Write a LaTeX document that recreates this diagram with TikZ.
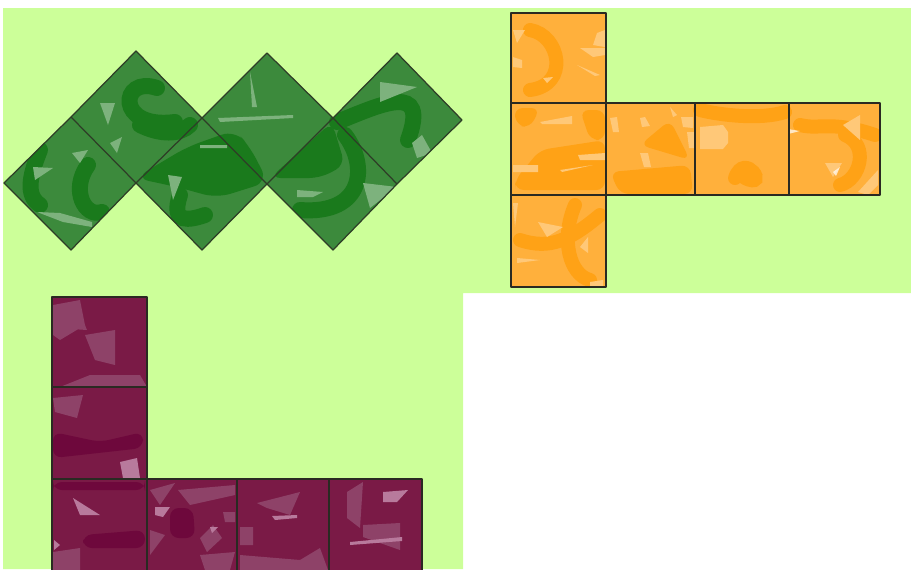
\documentclass[tikz,border=0pt]{standalone}
\usepackage{xcolor}
\definecolor{Lime}{HTML}{CCFF99}
\definecolor{LeafMid}{HTML}{3C8A3C}
\definecolor{LeafDark}{HTML}{1A7A1C}
\definecolor{LeafPale}{HTML}{7DB27D}
\definecolor{AmberMid}{HTML}{FFB03C}
\definecolor{AmberDark}{HTML}{FFA216}
\definecolor{AmberPale}{HTML}{FFC878}
\definecolor{WineMid}{HTML}{7A1A46}
\definecolor{WineDark}{HTML}{6E083C}
\definecolor{WinePale}{HTML}{8E4268}
\definecolor{WineLight}{HTML}{B87A9C}
\definecolor{Edge}{HTML}{2A2A22}

\begin{document}
\begin{tikzpicture}[
  x=0.02cm,y=-0.02cm,
  leafedge/.style={draw=Edge!80!LeafMid,line width=0.7pt,line join=round},
  netedge/.style={draw=Edge,line width=0.8pt,line join=round},
  leafswirl/.style={draw=LeafDark,line width=16*0.02cm,line cap=round},
  amberswirl/.style={draw=AmberDark,line width=14*0.02cm,line cap=round}
]
  \useasboundingbox (0,0) rectangle (911,569);

  % backdrop
  \fill[Lime] (3,8) -- (911,8) -- (911,293) -- (463,293) -- (463,569) -- (3,569) -- cycle;

  % green net
  \begin{scope}
    \clip (4,183) -- (71,117) -- (136,51) -- (202,118) -- (267,53) -- (333,118) -- (397,53) -- (462,120) -- (397,184) -- (333,250) -- (267,184) -- (202,250) -- (136,183) -- (71,250) -- cycle;
    \fill[LeafMid] (0,40) rectangle (470,260);
    \draw[leafswirl] (157,88) .. controls (120,75) and (115,130) .. (175,122);
    \draw[leafswirl] (88,165) .. controls (70,190) and (85,218) .. (102,212);
    \draw[leafswirl] (345,135) .. controls (368,165) and (365,215) .. (300,210);
    \draw[leafswirl] (337,122) .. controls (380,105) and (430,80) .. (408,140);
    \draw[leafswirl] (40,150) .. controls (30,175) and (25,195) .. (40,205);
    \draw[leafswirl] (180,195) .. controls (170,225) and (190,220) .. (205,215);
    \draw[leafswirl] (140,125) .. controls (160,135) and (180,135) .. (190,125);
    \fill[LeafDark,rounded corners=8pt] (135,178) -- (187,147) -- (235,130) -- (250,147) -- (268,182) -- (217,198) -- (177,187) -- cycle;
    \fill[LeafDark,rounded corners=6pt] (270,178) -- (332,122) -- (345,165) -- (320,178) -- cycle;
    \fill[LeafPale] (380,82) -- (417,87) -- (380,102) -- cycle
      (100,103) -- (115,103) -- (108,125) -- cycle
      (412,143) -- (422,135) -- (432,153) -- (417,158) -- cycle
      (363,183) -- (397,187) -- (370,208) -- cycle
      (37,212) -- (60,213) -- (92,222) -- (92,227) -- (63,222) -- cycle
      (168,175) -- (182,177) -- (173,200) -- cycle
      (218,118) -- (293,115) -- (293,118) -- (220,122) -- cycle
      (250,72) -- (257,107) -- (252,107) -- cycle
      (72,153) -- (88,150) -- (80,163) -- cycle
      (33,167) -- (53,168) -- (35,180) -- cycle
      (110,143) -- (122,137) -- (117,153) -- cycle
      (200,145) -- (227,145) -- (227,148) -- (200,148) -- cycle
      (297,190) -- (323,192) -- (313,197) -- (297,197) -- cycle;
  \end{scope}
  \draw[leafedge] (4,183) -- (71,117) -- (136,51) -- (202,118) -- (267,53) -- (333,118) -- (397,53) -- (462,120) -- (397,184) -- (333,250) -- (267,184) -- (202,250) -- (136,183) -- (71,250) -- cycle;
  \draw[leafedge] (71,117) -- (136,183) -- (202,118) -- (267,184) -- (333,118) -- (397,184);

  % orange net
  \begin{scope}
    \clip (511,13) -- (606,13) -- (606,103) -- (880,103) -- (880,195) -- (606,195) -- (606,287) -- (511,287) -- cycle;
    \fill[AmberMid] (511,13) rectangle (880,287);
    \draw[amberswirl] (745,178) .. controls (770,190) and (745,150) .. (735,178);
    \draw[amberswirl] (845,135) .. controls (870,145) and (860,180) .. (840,185);
    \draw[amberswirl] (575,205) .. controls (560,240) and (570,275) .. (590,280);
    \draw[amberswirl] (520,240) .. controls (550,250) and (570,240) .. (600,215);
    \draw[amberswirl] (800,125) .. controls (820,130) and (830,120) .. (875,135);
    \draw[amberswirl] (530,30) .. controls (560,35) and (570,85) .. (530,90);
    \draw[amberswirl] (700,110) .. controls (720,115) and (760,120) .. (785,112);
    \fill[AmberDark,rounded corners=5pt] (514,108) -- (540,108) -- (530,128) -- (516,125) -- cycle
      (610,172) -- (690,165) -- (693,194) -- (620,194) -- cycle
      (640,145) -- (670,120) -- (690,160) -- cycle
      (540,150) -- (605,140) -- (605,190) -- (515,190) -- (515,180) -- cycle
      (580,110) -- (605,110) -- (605,140) -- (590,140) -- cycle;
    \fill[AmberPale] (580,48) -- (605,48) -- (605,55) -- (593,57) -- cycle
      (577,65) -- (600,75) -- (595,76) -- cycle
      (513,30) -- (525,30) -- (517,43) -- cycle
      (513,57) -- (522,60) -- (522,68) -- (513,67) -- cycle
      (543,78) -- (553,77) -- (547,83) -- cycle
      (597,33) -- (605,30) -- (605,47) -- (593,45) -- cycle
      (540,122) -- (572,116) -- (572,124) -- (542,124) -- cycle
      (513,165) -- (538,165) -- (538,172) -- (513,172) -- cycle
      (578,155) -- (605,153) -- (605,160) -- (580,160) -- cycle
      (560,170) -- (593,165) -- (562,172) -- cycle
      (610,118) -- (617,117) -- (619,132) -- (613,132) -- cycle
      (640,118) -- (645,117) -- (650,126) -- (642,127) -- cycle
      (681,117) -- (693,117) -- (693,128) -- (683,127) -- cycle
      (687,132) -- (694,132) -- (694,148) -- (689,148) -- cycle
      (640,153) -- (648,153) -- (651,167) -- (644,167) -- cycle
      (670,107) -- (677,115) -- (673,117) -- cycle
      (700,127) -- (723,125) -- (728,132) -- (728,143) -- (723,149) -- (700,149) -- cycle
      (843,125) -- (860,115) -- (860,140) -- cycle
      (825,163) -- (842,163) -- (833,177) -- cycle
      (858,192) -- (878,170) -- (878,185) -- (868,195) -- cycle
      (538,222) -- (563,227) -- (547,237) -- cycle
      (513,203) -- (518,203) -- (515,227) -- cycle
      (580,247) -- (588,237) -- (588,253) -- cycle
      (517,258) -- (540,260) -- (517,263) -- cycle
      (590,282) -- (603,280) -- (603,287) -- (590,287) -- cycle;
    \fill[white,fill opacity=0.7] (788,129) -- (800,131) -- (788,134) -- cycle
      (833,172) -- (840,167) -- (836,176) -- cycle;
  \end{scope}
  \draw[netedge] (511,13) rectangle (606,103);
  \draw[netedge] (511,103) rectangle (606,195);
  \draw[netedge] (511,195) rectangle (606,287);
  \draw[netedge] (606,103) rectangle (695,195);
  \draw[netedge] (695,103) rectangle (789,195);
  \draw[netedge] (789,103) rectangle (880,195);

  % purple net
  \begin{scope}
    \clip (52,297) -- (147,297) -- (147,479) -- (422,479) -- (422,575) -- (52,575) -- cycle;
    \fill[WineMid] (52,297) rectangle (422,575);
    \fill[WineDark,rounded corners=5pt] (53,432) -- (100,442) -- (143,432) -- (143,448) -- (53,458) -- cycle
      (170,508) -- (193,508) -- (195,538) -- (170,538) -- cycle
      (83,535) -- (145,530) -- (145,548) -- (83,548) -- cycle
      (53,482) -- (145,482) -- (145,490) -- (53,490) -- cycle;
    \fill[WinePale] (53,398) -- (83,395) -- (77,418) -- (55,412) -- cycle
      (53,305) -- (80,300) -- (85,325) -- (60,340) -- (53,335) -- cycle
      (90,375) -- (140,375) -- (147,387) -- (60,387) -- cycle
      (85,335) -- (115,330) -- (115,365) -- (95,360) -- cycle
      (257,503) -- (300,492) -- (290,515) -- (267,508) -- cycle
      (347,492) -- (363,482) -- (360,528) -- (347,518) -- cycle
      (363,525) -- (400,523) -- (400,550) -- (363,537) -- cycle
      (200,538) -- (213,525) -- (222,538) -- (207,552) -- cycle
      (223,512) -- (235,512) -- (235,522) -- (225,522) -- cycle
      (240,527) -- (253,527) -- (253,545) -- (240,545) -- cycle
      (53,552) -- (80,548) -- (80,570) -- (53,570) -- cycle
      (150,490) -- (175,483) -- (160,505) -- cycle
      (60,325) -- (85,325) -- (87,330) -- (57,328) -- cycle
      (178,490) -- (235,485) -- (235,495) -- (190,505) -- cycle
      (150,530) -- (165,535) -- (150,555) -- cycle
      (200,555) -- (235,552) -- (230,570) -- (205,570) -- cycle
      (240,555) -- (300,560) -- (320,548) -- (328,570) -- (240,570) -- cycle;
    \fill[WineLight] (120,462) -- (137,458) -- (140,478) -- (123,478) -- cycle
      (73,498) -- (100,515) -- (80,515) -- cycle
      (155,507) -- (170,507) -- (163,517) -- (155,515) -- cycle
      (272,516) -- (297,515) -- (297,518) -- (275,520) -- cycle
      (383,492) -- (408,490) -- (397,502) -- (383,502) -- cycle
      (350,542) -- (402,537) -- (402,541) -- (350,545) -- cycle
      (54,540) -- (60,545) -- (54,550) -- cycle
      (210,527) -- (218,527) -- (212,533) -- cycle;
  \end{scope}
  \draw[netedge] (52,297) rectangle (147,387);
  \draw[netedge] (52,387) rectangle (147,479);
  \draw[netedge] (52,479) rectangle (147,575);
  \draw[netedge] (147,479) rectangle (237,575);
  \draw[netedge] (237,479) rectangle (329,575);
  \draw[netedge] (329,479) rectangle (422,575);
\end{tikzpicture}
\end{document}
